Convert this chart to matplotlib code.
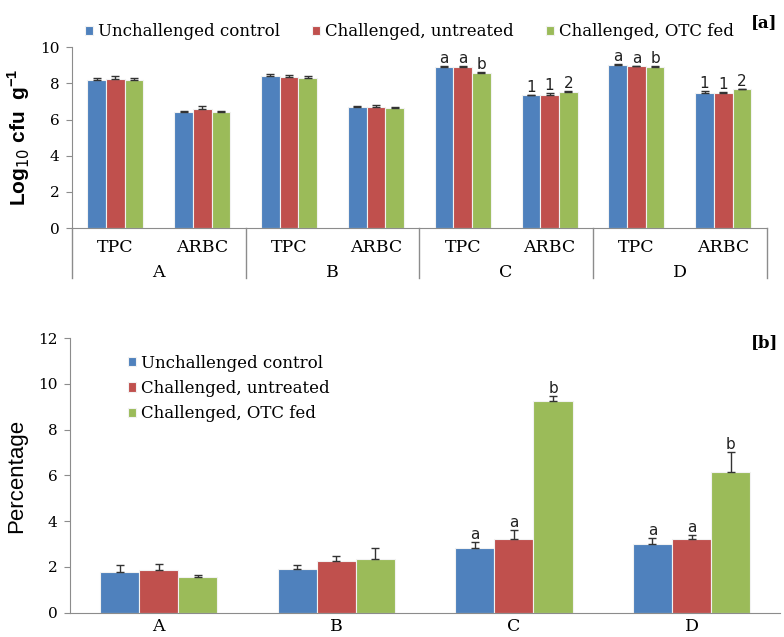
import numpy as np
import matplotlib
matplotlib.use('Agg')
import matplotlib.pyplot as plt

# --- dati pannello [a]: log10 cfu/g per gruppo e tipo di conta ---
groups = ['A', 'B', 'C', 'D']
counts = ['TPC', 'ARBC']
series = ['Unchallenged control', 'Challenged, untreated', 'Challenged, OTC fed']

# ordine: A-TPC, A-ARBC, B-TPC, B-ARBC, C-TPC, C-ARBC, D-TPC, D-ARBC
log_control = [8.18, 6.43, 8.40, 6.67, 8.91, 7.35, 9.00, 7.46]
log_untreated = [8.25, 6.57, 8.36, 6.68, 8.88, 7.36, 8.95, 7.46]
log_otc = [8.21, 6.43, 8.29, 6.64, 8.58, 7.53, 8.88, 7.66]
err_control_a = [0.12, 0.05, 0.10, 0.06, 0.06, 0.03, 0.06, 0.10]
err_untreated_a = [0.15, 0.15, 0.12, 0.10, 0.06, 0.08, 0.03, 0.04]
err_otc_a = [0.10, 0.06, 0.10, 0.03, 0.05, 0.04, 0.05, 0.03]
sig_a = {4: ['a', 'a', 'b'], 5: ['1', '1', '2'], 6: ['a', 'a', 'b'], 7: ['1', '1', '2']}

# --- dati pannello [b]: percentuale ---
pct_control = [1.79, 1.90, 2.84, 2.99]
pct_untreated = [1.87, 2.25, 3.22, 3.22]
pct_otc = [1.57, 2.36, 9.27, 6.17]
err_control_b = [0.30, 0.19, 0.27, 0.29]
err_untreated_b = [0.28, 0.24, 0.39, 0.17]
err_otc_b = [0.07, 0.48, 0.20, 0.86]
sig_b = {2: ['a', 'a', 'b'], 3: ['a', 'a', 'b']}

COLORS = ['#4F81BD', '#C0504D', '#9BBB59']
AXIS_GRAY = '#8c8c8c'
SERIF = 'DejaVu Serif'
SANS = 'DejaVu Sans'
LABEL_SANS = 'Liberation Sans'

plt.rcParams['font.family'] = SERIF


def draw_bars(ax, values, errors, width, sig, sig_size):
    n = len(values[0])
    x = np.arange(n)
    offsets = [-width, 0, width]
    for k in range(3):
        xs = x + offsets[k]
        ax.bar(xs, values[k], width=width, color=COLORS[k], edgecolor='#f2f2f2',
               linewidth=0.8, label=series[k], zorder=2)
        ax.errorbar(xs, values[k], yerr=[np.zeros(n), errors[k]], fmt='none',
                    ecolor='#333333', elinewidth=1.0, capsize=3, capthick=1.0,
                    zorder=3)
    for i, labels in sig.items():
        for k, lab in enumerate(labels):
            top = values[k][i] + errors[k][i]
            ax.text(x[i] + offsets[k], top, lab, ha='center', va='bottom',
                    fontsize=sig_size, family=SANS, color='#222222')


def style_axis(ax, ymax, step):
    ax.set_ylim(0, ymax)
    ax.set_yticks(np.arange(0, ymax + 0.1, step))
    for s in ['top', 'right']:
        ax.spines[s].set_visible(False)
    ax.spines['left'].set_color(AXIS_GRAY)
    ax.spines['bottom'].set_color(AXIS_GRAY)
    ax.tick_params(axis='y', labelsize=11, direction='out', length=4,
                   color=AXIS_GRAY, pad=5)


fig = plt.figure(figsize=(7.84, 6.37), dpi=100)

# ---------- pannello [a] ----------
ax1 = fig.add_axes([0.0918, 0.642, 0.886, 0.284])
vals_a = [log_control, log_untreated, log_otc]
errs_a = [err_control_a, err_untreated_a, err_otc_a]
draw_bars(ax1, vals_a, errs_a, 0.215, sig_a, 11)
style_axis(ax1, 10, 2)
ax1.set_xlim(-0.5, 7.5)
ax1.set_xticks(np.arange(8))
ax1.set_xticklabels(counts * 4, fontsize=12.5)
ax1.tick_params(axis='x', length=0, pad=8)
# separatori dei gruppi sotto l'asse
for b in range(5):
    xb = -0.5 + 2 * b
    ax1.plot([xb, xb], [0, -2.75], color=AXIS_GRAY, lw=1.0, clip_on=False)
for g, name in enumerate(groups):
    ax1.text(2 * g + 0.5, -2.45, name, ha='center', va='center', fontsize=12.5)
ax1.set_ylabel(r'Log$_{10}$ cfu  g$^{\mathregular{-1}}$', family=LABEL_SANS,
               fontsize=15, fontweight='bold', labelpad=6)
ax1.legend(loc='lower center', bbox_to_anchor=(0.486, 1.0), ncol=3, frameon=False,
           fontsize=12, handlelength=0.5, handleheight=0.5, handletextpad=0.3,
           columnspacing=1.9, borderaxespad=0.0)
fig.text(0.958, 0.965, '[a]', fontsize=12, fontweight='bold', ha='left',
         va='center')

# ---------- pannello [b] ----------
ax2 = fig.add_axes([0.0893, 0.0381, 0.906, 0.431])
vals_b = [pct_control, pct_untreated, pct_otc]
errs_b = [err_control_b, err_untreated_b, err_otc_b]
draw_bars(ax2, vals_b, errs_b, 0.22, sig_b, 11)
style_axis(ax2, 12, 2)
ax2.set_xlim(-0.5, 3.5)
ax2.set_xticks(np.arange(4))
ax2.set_xticklabels(groups, fontsize=12.5)
ax2.tick_params(axis='x', length=0, pad=4)
ax2.set_ylabel('Percentage', family=LABEL_SANS, fontsize=16, labelpad=8)
ax2.legend(loc='upper left', bbox_to_anchor=(0.06, 0.995), frameon=False,
           fontsize=12, handlelength=0.5, handleheight=0.5, handletextpad=0.3,
           labelspacing=0.5)
fig.text(0.958, 0.462, '[b]', fontsize=12, fontweight='bold', ha='left',
         va='center')

fig.savefig('out.png', dpi=100)
